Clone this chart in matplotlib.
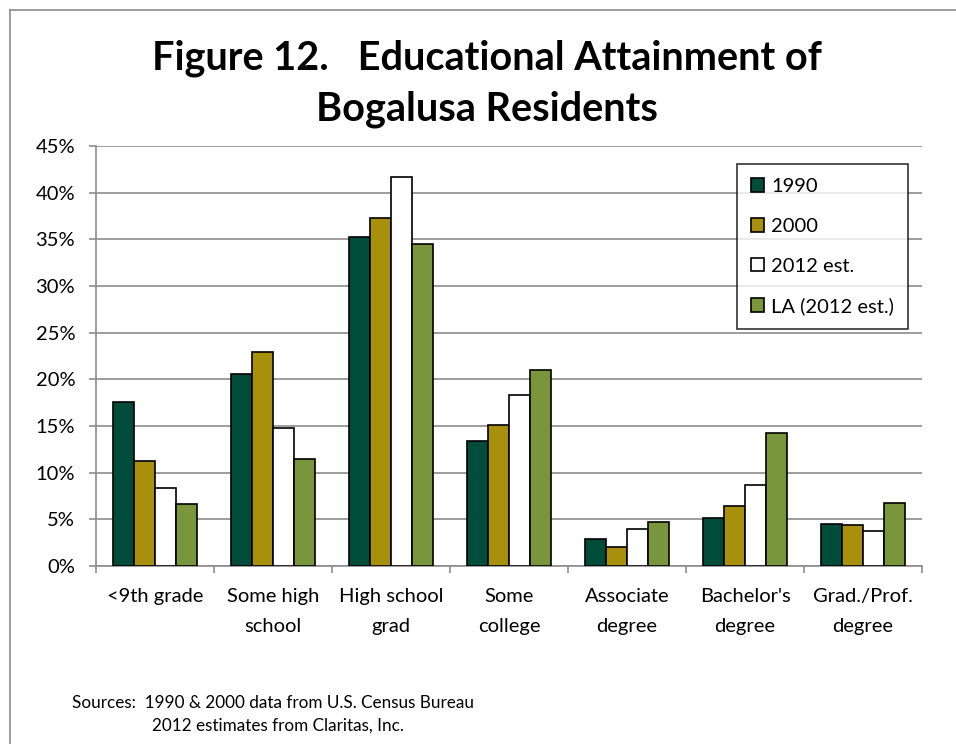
import numpy as np
import matplotlib
matplotlib.use("Agg")
import matplotlib.pyplot as plt
from matplotlib.lines import Line2D
from matplotlib.ticker import FuncFormatter, MultipleLocator

plt.rcParams["font.family"] = ["Lato", "DejaVu Sans"]

categories = ["<9th grade", "Some high\nschool", "High school\ngrad", "Some\ncollege",
              "Associate\ndegree", "Bachelor's\ndegree", "Grad./Prof.\ndegree"]
series_names = ["1990", "2000", "2012 est.", "LA (2012 est.)"]
v1990 = [17.6, 20.6, 35.2, 13.4, 2.85, 5.1, 4.55]
v2000 = [11.2, 22.9, 37.3, 15.1, 2.0, 6.4, 4.4]
v2012 = [8.35, 14.8, 41.7, 18.3, 3.95, 8.7, 3.8]
v_la = [6.6, 11.5, 34.5, 21.0, 4.7, 14.2, 6.8]
colors = ["#004C3B", "#A8900C", "#FFFFFF", "#7A963C"]

title = "Figure 12.   Educational Attainment of\nBogalusa Residents"
sources = ["Sources:  1990 & 2000 data from U.S. Census Bureau",
           "2012 estimates from Claritas, Inc."]

W, H = 956, 744
fig = plt.figure(figsize=(W / 100, H / 100), dpi=100)
ax = fig.add_axes([96 / W, 1 - 566 / H, (922 - 96) / W, (566 - 146) / H])

x = np.arange(len(categories))
bw = 0.18
for k, (vals, name) in enumerate(zip([v1990, v2000, v2012, v_la], series_names)):
    ax.bar(x + (k - 1.5) * bw, vals, width=bw, color=colors[k], edgecolor="black",
           linewidth=1.2, label=name, zorder=3)

ax.set_xlim(-0.5, len(categories) - 0.5)
ax.set_ylim(0, 45)
ax.yaxis.set_major_locator(MultipleLocator(5))
ax.yaxis.set_major_formatter(FuncFormatter(lambda v, p: f"{v:.0f}%"))
ax.grid(axis="y", color="#8c8c8c", linewidth=1.2, zorder=0)
ax.set_axisbelow(True)

ax.set_xticks(x)
ax.set_xticklabels(categories, fontsize=14.5, linespacing=1.9)
ax.set_xticks(np.arange(len(categories) + 1) - 0.5, minor=True)
ax.tick_params(axis="x", which="major", length=0, pad=16)
ax.tick_params(axis="x", which="minor", length=5, width=1.2, color="#8c8c8c")
ax.tick_params(axis="y", length=5, width=1.2, color="#8c8c8c", labelsize=14.5, pad=10)

for s in ["top", "right"]:
    ax.spines[s].set_visible(False)
for s in ["left", "bottom"]:
    ax.spines[s].set_color("#8c8c8c")
    ax.spines[s].set_linewidth(1.2)

leg = ax.legend(loc="upper left", bbox_to_anchor=(737 / W, 1 - 164 / H),
                bbox_transform=fig.transFigure, fontsize=14.5, frameon=True,
                fancybox=False, edgecolor="black", handlelength=0.65, handleheight=0.65,
                handletextpad=0.35, labelspacing=1.13, borderpad=0.7, borderaxespad=0)
leg.get_frame().set_linewidth(1.2)

fig.text(487 / W, 1 - 84 / H, title, ha="center", va="center", fontsize=28.5,
         fontweight="bold", linespacing=1.45)
fig.text(72 / W, 1 - 703 / H, sources[0], ha="left", va="center", fontsize=12.3)
fig.text(152 / W, 1 - 726 / H, sources[1], ha="left", va="center", fontsize=12.3)

# outer chart border
fig.add_artist(Line2D([10 / W, 10 / W], [0, 1 - 10 / H], transform=fig.transFigure,
                      color="#8c8c8c", linewidth=1.2))
fig.add_artist(Line2D([10 / W, 1], [1 - 10 / H, 1 - 10 / H], transform=fig.transFigure,
                      color="#8c8c8c", linewidth=1.2))

fig.savefig("out.png", dpi=100)
